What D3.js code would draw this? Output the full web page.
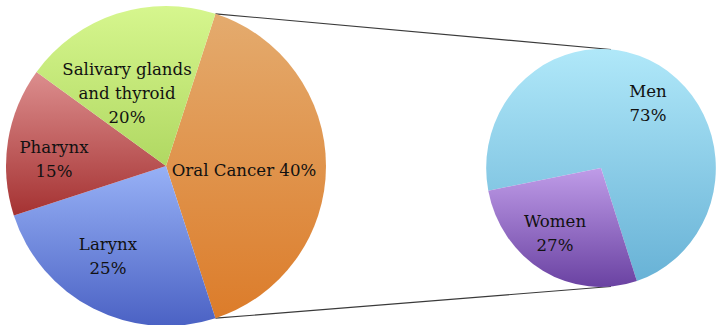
<!DOCTYPE html>
<html><head><meta charset="utf-8">
<script src="https://cdn.jsdelivr.net/npm/d3@7/dist/d3.min.js"></script>
<style>html,body{margin:0;padding:0;background:#fff;overflow:hidden}</style>
</head><body><svg id="c" width="718" height="325"></svg>
<script>
const categories = ["Oral Cancer", "Larynx", "Pharynx", "Salivary glands and thyroid"];
const values = [40, 25, 15, 20];
const subCategories = ["Men", "Women"];
const subValues = [73, 27];

const mainColors = [["#e4ab6e","#dc7c2a"],["#97b1f6","#4b62c4"],["#dc8e8e","#a53232"],["#d6f68e","#b0d862"]];
const subColors = [["#b0e8f9","#68b2d6"],["#bf9ce8","#6a42a2"]];

const svg = d3.select("#c");
const defs = svg.append("defs");
function grad(id, c){
  const g = defs.append("linearGradient").attr("id", id).attr("x1",0).attr("y1",0).attr("x2",0).attr("y2",1);
  g.append("stop").attr("offset","0%").attr("stop-color",c[0]);
  g.append("stop").attr("offset","100%").attr("stop-color",c[1]);
}
mainColors.forEach((c,i)=>grad("m"+i,c));
subColors.forEach((c,i)=>grad("s"+i,c));

const deg = Math.PI/180;
const L = {cx:166, cy:166, r:160};
const R = {cx:601, cy:168, r:119, sx:0.965};

const pieMain = d3.pie().sort(null).startAngle(18*deg).endAngle(378*deg)(values);
const pieSub = d3.pie().sort(null).startAngle(259*deg).endAngle(619*deg)(subValues);
const arcL = d3.arc().innerRadius(0).outerRadius(L.r);
const arcR = d3.arc().innerRadius(0).outerRadius(R.r);

// connector lines
const pt = (c, a, sx=1) => [c.cx + c.r*Math.sin(a)*sx, c.cy - c.r*Math.cos(a)];
const lines = [
  [pt(L, pieMain[0].startAngle), pt(R, 5*deg, R.sx)],
  [pt(L, pieMain[0].endAngle), pt(R, 175*deg, R.sx)]
];
svg.selectAll("line.con").data(lines).join("line").attr("class","con")
  .attr("x1",d=>d[0][0]).attr("y1",d=>d[0][1]).attr("x2",d=>d[1][0]).attr("y2",d=>d[1][1])
  .attr("stroke","#3a3a3a").attr("stroke-width",1.1);

const gL = svg.append("g").attr("transform",`translate(${L.cx},${L.cy})`);
gL.selectAll("path").data(pieMain).join("path").attr("d",arcL).attr("fill",(d,i)=>`url(#m${i})`);

const gR = svg.append("g").attr("transform",`translate(${R.cx},${R.cy}) scale(${R.sx},1)`);
gR.selectAll("path").data(pieSub).join("path").attr("d",arcR).attr("fill",(d,i)=>`url(#s${i})`);

// labels
const font = "'DejaVu Serif', serif";
const mainLabels = [
  {lines:[categories[0]+" "+values[0]+"%"], x:244, y:176},
  {lines:[categories[1], values[1]+"%"], x:108, y:250},
  {lines:[categories[2], values[2]+"%"], x:54, y:153},
  {lines:["Salivary glands","and thyroid", values[3]+"%"], x:127, y:75}
];
const subLabels = [
  {lines:[subCategories[0], subValues[0]+"%"], x:648, y:97},
  {lines:[subCategories[1], subValues[1]+"%"], x:555, y:227}
];
[...mainLabels, ...subLabels].forEach(l=>{
  const t = svg.append("text").attr("text-anchor","middle").attr("font-family",font)
    .attr("font-size",16.6).attr("fill","#111");
  l.lines.forEach((s,j)=>t.append("tspan").attr("x",l.x).attr("y",l.y+j*24).text(s));
});
</script></body></html>
